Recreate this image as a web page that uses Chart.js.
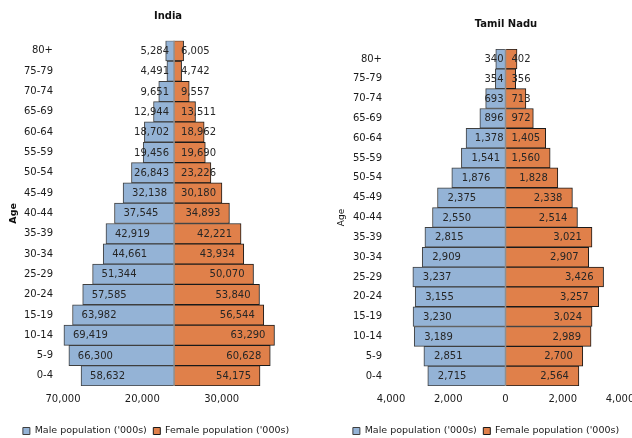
<!DOCTYPE html>
<html>
<head>
<meta charset="utf-8">
<script src="https://cdn.jsdelivr.net/npm/chart.js@4.4.1/dist/chart.umd.min.js"></script>
<style>
  html, body { margin: 0; padding: 0; background: #fff; overflow: hidden; width: 632px; height: 438px; }
  #wrap { position: relative; width: 632px; height: 438px; overflow: hidden; }
  canvas { position: absolute; top: 0; }
  #india { left: 0; }
  #tn { left: 320px; }
</style>
</head>
<body>
<div id="wrap">
  <canvas id="india" width="320" height="438"></canvas>
  <canvas id="tn" width="330" height="438"></canvas>
</div>
<script>
// Age groups, oldest at the top of the pyramid
const ageGroups = ['80+', '75-79', '70-74', '65-69', '60-64', '55-59', '50-54', '45-49',
  '40-44', '35-39', '30-34', '25-29', '20-24', '15-19', '10-14', '5-9', '0-4'];

// India, population in thousands
const indiaMale = [5284, 4491, 9651, 12944, 18702, 19456, 26843, 32138,
  37545, 42919, 44661, 51344, 57585, 63982, 69419, 66300, 58632];
const indiaFemale = [6005, 4742, 9557, 13511, 18962, 19690, 23226, 30180,
  34893, 42221, 43934, 50070, 53840, 56544, 63290, 60628, 54175];
const indiaTicks = [-70000, -20000, 30000];

// Tamil Nadu, population in thousands
const tnMale = [340, 354, 693, 896, 1378, 1541, 1876, 2375,
  2550, 2815, 2909, 3237, 3155, 3230, 3189, 2851, 2715];
const tnFemale = [402, 356, 713, 972, 1405, 1560, 1828, 2338,
  2514, 3021, 2907, 3426, 3257, 3024, 2989, 2700, 2564];

const MALE_LABEL = "Male population ('000s)";
const FEMALE_LABEL = "Female population ('000s)";
const FONT = 'DejaVu Sans';
const fmt = v => Math.abs(v).toLocaleString('en-US');

// Value labels sit just inside the outer end of each bar, but never cross the centre line
const barValueLabels = {
  id: 'barValueLabels',
  afterDatasetsDraw(chart, args, o) {
    const ctx = chart.ctx;
    ctx.save();
    ctx.font = '10px "' + FONT + '"';
    ctx.fillStyle = '#262626';
    ctx.textBaseline = 'middle';
    ctx.textAlign = 'left';
    chart.data.datasets.forEach((ds, di) => {
      chart.getDatasetMeta(di).data.forEach((bar, i) => {
        const text = fmt(ds.data[i]);
        const w = ctx.measureText(text).width;
        let left;
        if (bar.x < bar.base) {
          left = bar.x + o.inset;
          if (left + w > bar.base - o.maleGap) left = bar.base - o.maleGap - w;
        } else {
          left = bar.x - o.inset - w;
          if (left < bar.base + o.femaleGap) left = bar.base + o.femaleGap;
        }
        ctx.fillText(text, left, bar.y + 0.5);
      });
    });
    ctx.restore();
  }
};

// Grey vertical axis at zero between the two halves
const centreLine = {
  id: 'centreLine',
  afterDatasetsDraw(chart) {
    const {ctx, chartArea, scales} = chart;
    const x = scales.x.getPixelForValue(0);
    ctx.save();
    ctx.strokeStyle = '#8e8e8e';
    ctx.lineWidth = 1.5;
    ctx.beginPath();
    ctx.moveTo(x, chartArea.top);
    ctx.lineTo(x, chartArea.bottom);
    ctx.stroke();
    ctx.restore();
  },
  beforeDatasetDraw() {}
};

// Centre the title and legend on chosen positions after the layout pass
const boxPlacement = {
  id: 'boxPlacement',
  afterLayout(chart, args, o) {
    const t = chart.titleBlock;
    if (t && o.titleX != null) {
      const half = (t.right - t.left) / 2;
      t.left = o.titleX - half;
      t.right = o.titleX + half;
    }
    const lg = chart.legend;
    if (lg && o.legendX != null) {
      const half = (lg.right - lg.left) / 2;
      lg.left = o.legendX - half;
      lg.right = o.legendX + half;
      const lab = lg.options.labels;
      const itemH = Math.max(lab.font.size, lab.boxHeight);
      const h = lg.bottom - lg.top;
      lg.top = o.legendY - lab.padding - itemH / 2;
      lg.bottom = lg.top + h;
    }
  }
};

function pyramid(canvas, c) {
  const barStyle = {barPercentage: 1, categoryPercentage: 1, borderWidth: 1, borderSkipped: 'start'};
  return new Chart(canvas, {
    type: 'bar',
    data: {
      labels: ageGroups,
      datasets: [
        Object.assign({label: MALE_LABEL, data: c.male.map(v => -v),
          backgroundColor: '#94b3d6', borderColor: '#3f3f3f'}, barStyle),
        Object.assign({label: FEMALE_LABEL, data: c.female,
          backgroundColor: '#e0804a', borderColor: '#1a1a1a'}, barStyle)
      ]
    },
    options: {
      indexAxis: 'y',
      responsive: false,
      animation: false,
      devicePixelRatio: 1,
      layout: {padding: {left: 0, top: 0, bottom: 0, right: c.padRight}},
      scales: {
        x: {
          stacked: true,
          min: c.min,
          max: c.max,
          ticks: {stepSize: c.step, padding: 7, color: '#1a1a1a',
            font: {family: FONT, size: 10}, callback: v => fmt(v), maxRotation: 0},
          afterBuildTicks: c.ticks ? (s => { s.ticks = c.ticks.map(value => ({value})); }) : undefined,
          grid: {display: false, drawTicks: false},
          border: {display: false}
        },
        y: {
          stacked: true,
          ticks: {padding: c.yPad, color: '#1a1a1a', font: {family: FONT, size: 10}},
          grid: {display: false, drawTicks: false},
          border: {display: false},
          title: {display: true, text: 'Age', color: '#111',
            font: {family: FONT, size: c.ageSize, weight: c.ageWeight},
            padding: {top: c.agePad, bottom: 0}},
          afterFit: s => { s.width = c.yWidth; }
        }
      },
      plugins: {
        title: {display: true, text: c.title, color: '#111',
          font: {family: FONT, size: 10, weight: 'bold'},
          padding: {top: c.titleTop, bottom: c.titleBottom}},
        legend: {position: 'bottom',
          labels: {boxWidth: 7, boxHeight: 7, padding: 6.5, color: '#1a1a1a',
            font: {family: FONT, size: 9.5}}},
        tooltip: {enabled: false},
        barValueLabels: c.labels,
        boxPlacement: {titleX: c.titleX, legendX: c.legendX, legendY: 431}
      }
    },
    plugins: [centreLine, barValueLabels, boxPlacement]
  });
}

pyramid(document.getElementById('india'), {
  title: 'India', male: indiaMale, female: indiaFemale,
  min: -70000, max: 80000, step: 50000, ticks: indiaTicks,
  padRight: 19, yWidth: 63, yPad: 10,
  ageSize: 9.5, ageWeight: 'bold', agePad: 8.3,
  titleTop: 10, titleBottom: 18.7, titleX: 168, legendX: 156,
  labels: {inset: 9, maleGap: 5, femaleGap: 7}
});

pyramid(document.getElementById('tn'), {
  title: 'Tamil Nadu', male: tnMale, female: tnFemale,
  min: -4000, max: 4000, step: 2000, ticks: null,
  padRight: 30, yWidth: 71, yPad: 9,
  ageSize: 9, ageWeight: 'normal', agePad: 16.6,
  titleTop: 18, titleBottom: 19, titleX: 186, legendX: 166,
  labels: {inset: 10, maleGap: 2, femaleGap: 6}
});
</script>
</body>
</html>
